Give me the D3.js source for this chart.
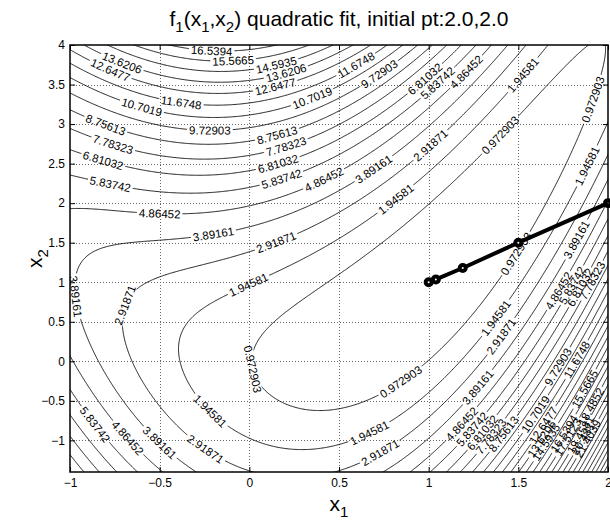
<!DOCTYPE html>
<html>
<head>
<meta charset="utf-8">
<script src="https://cdn.jsdelivr.net/npm/d3@7"></script>
<style>
  body { margin: 0; background: #fff; }
  svg { display: block; font-family: "Liberation Sans", Arial, Helvetica, sans-serif; }
</style>
</head>
<body>
<svg id="chart" width="610" height="521"></svg>
<script>
// ---- chart values ----
const xDomain = [-1, 2];
const yDomain = [-1.4, 4];
const xTicks = [-1, -0.5, 0, 0.5, 1, 1.5, 2];
const xTickLabels = ["\u22121", "\u22120.5", "0", "0.5", "1", "1.5", "2"];
const yTicks = [-1, -0.5, 0, 0.5, 1, 1.5, 2, 2.5, 3, 3.5, 4];
const yTickLabels = ["\u22121", "\u22120.5", "0", "0.5", "1", "1.5", "2", "2.5", "3", "3.5", "4"];

// contour levels, as printed on the lines
const levelLabels = [
  "0.972903", "1.94581", "2.91871", "3.89161", "4.86452", "5.83742", "6.81032",
  "7.78323", "8.75613", "9.72903", "10.7019", "11.6748", "12.6477", "13.6206",
  "14.5935", "15.5665", "16.5394", "17.5123", "18.4852", "19.4581", "20.431",
  "21.4039", "22.3768", "23.3497", "24.3226", "25.2955", "26.2684", "27.2413",
  "28.2142", "29.1871"
];

// iterates of the quadratic-fit search, starting at (2, 2)
const pathX1 = [2.0, 1.5, 1.19, 1.04, 1.0];
const pathX2 = [2.0, 1.5, 1.18, 1.035, 1.0];

// where each inline contour label sits: [level number, x1, x2]
const contourLabels = [
  [17, -0.21, 3.90], [16, -0.09, 3.80], [14, -0.72, 3.73], [13, -0.78, 3.65],
  [15, 0.15, 3.76], [14, 0.20, 3.675], [13, 0.15, 3.45], [12, -0.38, 3.26],
  [11, -0.60, 3.20], [11, 0.35, 3.35], [12, 0.58, 3.81], [10, 0.72, 3.66],
  [10, -0.22, 2.92], [9, -0.81, 2.95], [9, 0.15, 2.92], [8, -0.76, 2.75],
  [8, 0.20, 2.735], [7, -0.815, 2.52], [7, 0.16, 2.48], [6, -0.78, 2.21],
  [6, 0.18, 2.32], [5, 0.40, 2.38], [7, 0.98, 3.58], [6, 1.06, 3.49],
  [5, 1.22, 3.64], [2, 1.54, 3.60], [1, 1.40, 2.86], [1, 1.93, 3.30],
  [2, 1.86, 2.50], [3, 1.02, 2.71], [4, 0.685, 2.46], [2, 0.80, 2.10],
  [5, -0.50, 1.85], [4, -0.20, 1.58], [3, 0.15, 1.49], [2, 0.00, 0.94],
  [3, -0.67, 0.69], [4, -0.97, 0.82], [1, 0.04, -0.09], [2, -0.22, -0.64],
  [3, -0.25, -1.12], [4, -0.50, -1.02], [5, -0.68, -0.97], [6, -0.87, -0.81],
  [1, 0.84, -0.24], [2, 0.67, -0.91], [3, 0.72, -1.12], [1, 1.48, 1.37],
  [2, 1.39, 0.52], [3, 1.43, 0.27], [4, 1.28, -0.34], [4, 1.83, 1.53],
  [5, 1.22, -0.87], [6, 1.27, -0.91], [7, 1.315, -0.93], [8, 1.35, -0.95],
  [9, 1.41, -0.91], [11, 1.59, -0.66], [10, 1.72, -0.07], [12, 1.83, 0.02],
  [16, 1.88, -0.36], [19, 1.91, -0.58], [13, 1.66, -0.84], [14, 1.64, -1.0],
  [15, 1.68, -1.06], [17, 1.72, -0.87], [18, 1.78, -0.96], [20, 1.82, -0.89],
  [21, 1.85, -0.96], [22, 1.90, -1.0],
  [5, 1.72, 0.90], [6, 1.78, 0.99], [7, 1.84, 0.94], [8, 1.90, 1.03]
];

const titleParts = [["f", 0], ["1", 1], ["(x", 0], ["1", 1], [",x", 0], ["2", 1], [") quadratic fit, initial pt:2.0,2.0", 0]];

// objective being contoured
function f1(a, b) { return (b - a * a) ** 2 + (1 - a) ** 2; }

// ---- layout ----
const W = 610, H = 521;
const plot = { left: 70, right: 608, top: 45, bottom: 472 };
const x = d3.scaleLinear().domain(xDomain).range([plot.left, plot.right]);
const y = d3.scaleLinear().domain(yDomain).range([plot.bottom, plot.top]);

const svg = d3.select("#chart");
svg.append("rect").attr("width", W).attr("height", H).attr("fill", "#fff");
const defs = svg.append("defs");
defs.append("clipPath").attr("id", "plotClip").append("rect")
  .attr("x", plot.left).attr("y", plot.top)
  .attr("width", plot.right - plot.left).attr("height", plot.bottom - plot.top);

// dotted grid
const grid = svg.append("g").attr("stroke", "#666").attr("stroke-width", 1).attr("stroke-dasharray", "1 2");
grid.selectAll("line.gx").data(xTicks.slice(1, -1)).join("line").attr("class", "gx")
  .attr("x1", d => Math.round(x(d)) + 0.5).attr("x2", d => Math.round(x(d)) + 0.5)
  .attr("y1", plot.top).attr("y2", plot.bottom);
grid.selectAll("line.gy").data(yTicks.slice(0, -1)).join("line").attr("class", "gy")
  .attr("y1", d => Math.round(y(d)) + 0.5).attr("y2", d => Math.round(y(d)) + 0.5)
  .attr("x1", plot.left).attr("x2", plot.right);

// ---- contour field ----
const hx = 0.005, hy = 0.01, pad = 4;
const gx0 = xDomain[0] - pad * hx, gy0 = yDomain[0] - pad * hy;
const nx = Math.round((xDomain[1] - xDomain[0]) / hx) + 2 * pad + 1;
const ny = Math.round((yDomain[1] - yDomain[0]) / hy) + 2 * pad + 1;
const field = new Float64Array(nx * ny);
for (let j = 0; j < ny; j++) {
  for (let i = 0; i < nx; i++) field[j * nx + i] = f1(gx0 + i * hx, gy0 + j * hy);
}
const levels = levelLabels.map(Number);
const contours = d3.contours().size([nx, ny]).thresholds(levels)(field);
const toPx = p => [x(gx0 + (p[0] - 0.5) * hx), y(gy0 + (p[1] - 0.5) * hy)];
const ringsPx = contours.map(c => c.coordinates.flatMap(poly => poly.map(ring => ring.map(toPx))));
const lineGen = d3.line();

const contourG = svg.append("g").attr("clip-path", "url(#plotClip)");
const labelG = svg.append("g").attr("clip-path", "url(#plotClip)");
const labelFont = 11.5;
const gaps = levels.map(() => []);
const inside = p => p[0] > plot.left + 1 && p[0] < plot.right - 1 && p[1] > plot.top + 1 && p[1] < plot.bottom - 1;

contourLabels.forEach(([k, lx, ly]) => {
  const rings = ringsPx[k - 1];
  const tx = x(lx), ty = y(ly);
  let best = null, bd = Infinity;
  rings.forEach(r => r.forEach((p, i) => {
    if (!inside(p)) return;
    const d = (p[0] - tx) ** 2 + (p[1] - ty) ** 2;
    if (d < bd) { bd = d; best = { r, i }; }
  }));
  if (!best) return;
  const { r, i } = best, n = r.length - 1;
  const a = r[(i - 5 + n) % n], b = r[(i + 5) % n];
  let ang = Math.atan2(b[1] - a[1], b[0] - a[0]) * 180 / Math.PI;
  if (ang > 90) ang -= 180;
  if (ang <= -90) ang += 180;
  const c = r[i];
  const t = labelG.append("text")
    .attr("transform", `translate(${c[0]},${c[1]}) rotate(${ang})`)
    .attr("text-anchor", "middle").attr("dy", "0.35em")
    .attr("font-size", labelFont).attr("fill", "#000")
    .text(levelLabels[k - 1]);
  const w = t.node().getComputedTextLength();
  gaps[k - 1].push({ c, ang, w });
});

contours.forEach((c, idx) => {
  const d = ringsPx[idx].map(r => lineGen(r)).join("");
  const p = contourG.append("path").attr("d", d)
    .attr("fill", "none").attr("stroke", "#000").attr("stroke-width", 0.9);
  if (gaps[idx].length) {
    const m = defs.append("mask").attr("id", "gap" + idx)
      .attr("maskUnits", "userSpaceOnUse").attr("x", 0).attr("y", 0).attr("width", W).attr("height", H);
    m.append("rect").attr("width", W).attr("height", H).attr("fill", "#fff");
    gaps[idx].forEach(g => {
      m.append("rect")
        .attr("transform", `translate(${g.c[0]},${g.c[1]}) rotate(${g.ang})`)
        .attr("x", -g.w / 2 - 2).attr("y", -5).attr("width", g.w + 4).attr("height", 10)
        .attr("fill", "#000");
    });
    p.attr("mask", `url(#gap${idx})`);
  }
});

// ---- search path ----
const idx = d3.range(pathX1.length);
svg.append("path")
  .attr("d", d3.line().x(i => x(pathX1[i])).y(i => y(pathX2[i]))(idx))
  .attr("fill", "none").attr("stroke", "#000").attr("stroke-width", 4)
  .attr("stroke-linejoin", "round");
svg.selectAll("circle.pt").data(idx).join("circle").attr("class", "pt")
  .attr("cx", i => x(pathX1[i])).attr("cy", i => y(pathX2[i]))
  .attr("r", 3).attr("fill", "#fff").attr("stroke", "#000").attr("stroke-width", 4);

// ---- axes ----
const axisStyle = g => {
  g.select(".domain").remove();
  g.selectAll(".tick line").attr("stroke", "#000").attr("stroke-width", 1);
  g.selectAll(".tick text").attr("font-size", 12).attr("fill", "#000").attr("font-family", null);
};
svg.append("g").attr("transform", `translate(0,${plot.bottom})`)
  .call(d3.axisBottom(x).tickValues(xTicks).tickFormat((d, i) => xTickLabels[i]).tickSizeInner(-5).tickSizeOuter(0).tickPadding(6))
  .call(axisStyle);
svg.append("g").attr("transform", `translate(0,${plot.top})`)
  .call(d3.axisTop(x).tickValues(xTicks).tickFormat("").tickSizeInner(-5).tickSizeOuter(0))
  .call(axisStyle);
svg.append("g").attr("transform", `translate(${plot.left},0)`)
  .call(d3.axisLeft(y).tickValues(yTicks).tickFormat((d, i) => yTickLabels[i]).tickSizeInner(-5).tickSizeOuter(0).tickPadding(5))
  .call(axisStyle);
svg.append("g").attr("transform", `translate(${plot.right},0)`)
  .call(d3.axisRight(y).tickValues(yTicks).tickFormat("").tickSizeInner(-5).tickSizeOuter(0))
  .call(axisStyle);
svg.selectAll("g.tick text").attr("font-family", null);

svg.append("rect")
  .attr("x", plot.left).attr("y", plot.top)
  .attr("width", plot.right - plot.left).attr("height", plot.bottom - plot.top)
  .attr("fill", "none").attr("stroke", "#000").attr("stroke-width", 1.5);

// ---- title and axis labels ----
const title = svg.append("text").attr("x", (plot.left + plot.right) / 2).attr("y", 26)
  .attr("text-anchor", "middle").attr("font-size", 21).attr("fill", "#000");
let prevSub = 0;
titleParts.forEach(([s, sub]) => {
  title.append("tspan").attr("font-size", sub ? 15 : 21)
    .attr("dy", (sub - prevSub) * 6).text(s);
  prevSub = sub;
});

const xl = svg.append("text").attr("x", (plot.left + plot.right) / 2).attr("y", 511)
  .attr("text-anchor", "middle").attr("font-size", 21).attr("fill", "#000");
xl.append("tspan").text("x");
xl.append("tspan").attr("font-size", 15).attr("dy", 6).text("1");

const yl = svg.append("text")
  .attr("transform", `translate(42,${(plot.top + plot.bottom) / 2}) rotate(-90)`)
  .attr("text-anchor", "middle").attr("font-size", 21).attr("fill", "#000");
yl.append("tspan").text("x");
yl.append("tspan").attr("font-size", 15).attr("dy", 6).text("2");
</script>
</body>
</html>
